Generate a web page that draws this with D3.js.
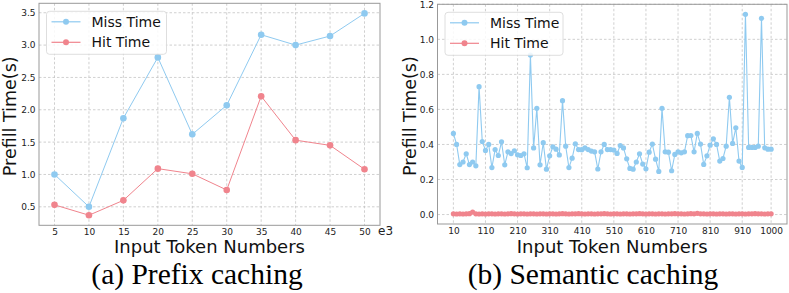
<!DOCTYPE html>
<html>
<head>
<meta charset="utf-8">
<script src="https://cdn.jsdelivr.net/npm/d3@7"></script>
<style>
  body { margin: 0; background: #fff; }
  svg { display: block; }
</style>
</head>
<body>
<div id="chart"></div>
<script>
// Panel (a) data: prefix caching, tokens in thousands
const prefixTokens = [5, 10, 15, 20, 25, 30, 35, 40, 45, 50];
const prefixMiss = [1.00, 0.50, 1.87, 2.81, 1.62, 2.07, 3.16, 3.00, 3.14, 3.49];
const prefixHit = [0.53, 0.37, 0.60, 1.09, 1.01, 0.76, 2.21, 1.53, 1.45, 1.08];
const prefixXTicks = [5, 10, 15, 20, 25, 30, 35, 40, 45, 50];
const prefixYTicks = [0.5, 1.0, 1.5, 2.0, 2.5, 3.0, 3.5];

// Panel (b) data: semantic caching
const semanticTokens = [
  10, 20, 30, 40, 50, 60, 70, 80, 90, 100,
  110, 120, 130, 140, 150, 160, 170, 180, 190, 200,
  210, 220, 230, 240, 250, 260, 270, 280, 290, 300,
  310, 320, 330, 340, 350, 360, 370, 380, 390, 400,
  410, 420, 430, 440, 450, 460, 470, 480, 490, 500,
  510, 520, 530, 540, 550, 560, 570, 580, 590, 600,
  610, 620, 630, 640, 650, 660, 670, 680, 690, 700,
  710, 720, 730, 740, 750, 760, 770, 780, 790, 800,
  810, 820, 830, 840, 850, 860, 870, 880, 890, 900,
  910, 920, 930, 940, 950, 960, 970, 980, 990, 1000
];
const semanticMiss = [
  0.463, 0.400, 0.285, 0.300, 0.347, 0.285, 0.300, 0.278, 0.730, 0.417,
  0.366, 0.400, 0.268, 0.371, 0.337, 0.415, 0.284, 0.358, 0.348, 0.364,
  0.341, 0.337, 0.347, 0.267, 0.910, 0.380, 0.606, 0.284, 0.410, 0.259,
  0.335, 0.387, 0.373, 0.340, 0.650, 0.390, 0.268, 0.322, 0.404, 0.371,
  0.370, 0.380, 0.371, 0.362, 0.358, 0.260, 0.358, 0.400, 0.371, 0.371,
  0.368, 0.349, 0.394, 0.380, 0.318, 0.263, 0.259, 0.300, 0.347, 0.288,
  0.261, 0.356, 0.402, 0.316, 0.246, 0.606, 0.358, 0.356, 0.250, 0.343,
  0.358, 0.352, 0.358, 0.450, 0.451, 0.358, 0.463, 0.402, 0.286, 0.335,
  0.396, 0.432, 0.400, 0.305, 0.320, 0.390, 0.669, 0.406, 0.495, 0.305,
  0.269, 1.143, 0.383, 0.383, 0.383, 0.390, 1.120, 0.381, 0.373, 0.373
];
const semanticHit = [
  0.004, 0.003, 0.004, 0.003, 0.004, 0.005, 0.014, 0.004, 0.003, 0.004,
  0.003, 0.004, 0.004, 0.003, 0.004, 0.004, 0.003, 0.004, 0.005, 0.004,
  0.003, 0.004, 0.004, 0.003, 0.004, 0.004, 0.003, 0.004, 0.004, 0.003,
  0.004, 0.004, 0.003, 0.004, 0.005, 0.004, 0.003, 0.004, 0.004, 0.005,
  0.004, 0.003, 0.004, 0.004, 0.003, 0.004, 0.004, 0.005, 0.004, 0.003,
  0.004, 0.004, 0.003, 0.004, 0.004, 0.003, 0.004, 0.004, 0.005, 0.004,
  0.003, 0.004, 0.004, 0.003, 0.004, 0.004, 0.003, 0.004, 0.004, 0.005,
  0.004, 0.004, 0.003, 0.004, 0.005, 0.004, 0.007, 0.004, 0.004, 0.003,
  0.004, 0.004, 0.003, 0.004, 0.004, 0.003, 0.004, 0.004, 0.003, 0.004,
  0.004, 0.003, 0.004, 0.004, 0.005, 0.004, 0.004, 0.003, 0.004, 0.004
];
const semanticXTicks = [10, 110, 210, 310, 410, 510, 610, 710, 810, 910, 1000];
const semanticYTicks = [0.0, 0.2, 0.4, 0.6, 0.8, 1.0, 1.2];

const seriesNames = ['Miss Time', 'Hit Time'];
const missColor = '#8fcaf0';
const hitColor = '#f0848d';
const sansFont = '"DejaVu Sans", sans-serif';

const svg = d3.select('#chart')
  .append('svg')
    .attr('width', 789)
    .attr('height', 293);

svg.append('rect')
  .attr('width', 789)
  .attr('height', 293)
  .attr('fill', '#fff');

// Draw one line panel with grid, axes, legend and labels
function drawPanel(p) {
  const xPad = (d3.max(p.tokens) - d3.min(p.tokens)) * 0.05;
  const x = d3.scaleLinear()
    .domain([d3.min(p.tokens) - xPad, d3.max(p.tokens) + xPad])
    .range([p.left, p.right]);

  const allValues = p.miss.concat(p.hit);
  const yPad = (d3.max(allValues) - d3.min(allValues)) * 0.05;
  const y = d3.scaleLinear()
    .domain([d3.min(allValues) - yPad, d3.max(allValues) + yPad])
    .range([p.bottom, p.top]);

  const g = svg.append('g');

  // Grid lines
  g.selectAll('.grid-x')
    .data(p.xTicks)
    .enter()
    .append('line')
      .attr('x1', d => x(d))
      .attr('x2', d => x(d))
      .attr('y1', p.top)
      .attr('y2', p.bottom)
      .attr('stroke', '#c4c4c4')
      .attr('stroke-width', 0.8)
      .attr('stroke-dasharray', '2.5,2');

  g.selectAll('.grid-y')
    .data(p.yTicks)
    .enter()
    .append('line')
      .attr('x1', p.left)
      .attr('x2', p.right)
      .attr('y1', d => y(d))
      .attr('y2', d => y(d))
      .attr('stroke', '#c4c4c4')
      .attr('stroke-width', 0.8)
      .attr('stroke-dasharray', '2.5,2');

  // Axes (tick labels only)
  const xAxis = g.append('g')
    .attr('transform', `translate(0,${p.bottom})`)
    .call(d3.axisBottom(x).tickValues(p.xTicks).tickSize(0).tickPadding(3.6).tickFormat(d3.format('d')));
  const yAxis = g.append('g')
    .attr('transform', `translate(${p.left},0)`)
    .call(d3.axisLeft(y).tickValues(p.yTicks).tickSize(0).tickPadding(3.5).tickFormat(d3.format('.1f')));

  [xAxis, yAxis].forEach(a => {
    a.select('.domain').remove();
    a.selectAll('text')
      .attr('fill', '#222')
      .style('font-family', sansFont)
      .style('font-size', '9px');
  });

  // Frame
  g.append('rect')
    .attr('x', p.left)
    .attr('y', p.top)
    .attr('width', p.right - p.left)
    .attr('height', p.bottom - p.top)
    .attr('fill', 'none')
    .attr('stroke', '#999')
    .attr('stroke-width', 1);

  // Lines and markers
  const line = d3.line()
    .x(d => x(d[0]))
    .y(d => y(d[1]));

  const series = [
    { values: p.miss, color: missColor },
    { values: p.hit, color: hitColor }
  ];

  series.forEach(s => {
    const pts = p.tokens.map((t, i) => [t, s.values[i]]);
    g.append('path')
      .datum(pts)
      .attr('d', line)
      .attr('fill', 'none')
      .attr('stroke', s.color)
      .attr('stroke-width', p.lineWidth);
    g.selectAll(null)
      .data(pts)
      .enter()
      .append('circle')
        .attr('cx', d => x(d[0]))
        .attr('cy', d => y(d[1]))
        .attr('r', p.radius)
        .attr('fill', s.color);
  });

  // Legend
  const lg = g.append('g')
    .attr('transform', `translate(${p.left + 7.5},${p.top + 8})`);
  lg.append('rect')
    .attr('width', p.legendWidth)
    .attr('height', 43)
    .attr('rx', 3)
    .attr('fill', '#fff')
    .attr('fill-opacity', 0.85)
    .attr('stroke', '#d6d6d6')
    .attr('stroke-width', 0.8);

  seriesNames.forEach((name, i) => {
    const rowY = 10.5 + i * 20.5;
    lg.append('line')
      .attr('x1', 5)
      .attr('x2', 34)
      .attr('y1', rowY)
      .attr('y2', rowY)
      .attr('stroke', series[i].color)
      .attr('stroke-width', 1.2);
    lg.append('circle')
      .attr('cx', 19.5)
      .attr('cy', rowY)
      .attr('r', 3)
      .attr('fill', series[i].color);
    lg.append('text')
      .attr('x', 45)
      .attr('y', rowY + 5)
      .attr('fill', '#111')
      .style('font-family', sansFont)
      .style('font-size', '14px')
      .text(name);
  });

  // Axis labels
  g.append('text')
    .attr('transform', `translate(${p.yLabelX},${(p.top + p.bottom) / 2 + 2}) rotate(-90)`)
    .attr('text-anchor', 'middle')
    .attr('fill', '#111')
    .style('font-family', sansFont)
    .style('font-size', '17.5px')
    .text('Prefill Time(s)');

  g.append('text')
    .attr('x', (p.left + p.right) / 2)
    .attr('y', 253)
    .attr('text-anchor', 'middle')
    .attr('fill', '#111')
    .style('font-family', sansFont)
    .style('font-size', '18px')
    .text('Input Token Numbers');

  if (p.offsetText) {
    g.append('text')
      .attr('x', p.right - 2)
      .attr('y', 235)
      .attr('fill', '#222')
      .style('font-family', sansFont)
      .style('font-size', '12px')
      .text(p.offsetText);
  }

  // Caption
  g.append('text')
    .attr('x', p.captionX)
    .attr('y', 284)
    .attr('text-anchor', 'middle')
    .attr('fill', '#000')
    .style('font-family', '"Liberation Serif", "Times New Roman", serif')
    .style('font-size', '29.5px')
    .text(p.caption);
}

drawPanel({
  tokens: prefixTokens,
  miss: prefixMiss,
  hit: prefixHit,
  xTicks: prefixXTicks,
  yTicks: prefixYTicks,
  left: 39, right: 380, top: 3.3, bottom: 225.3,
  lineWidth: 1, radius: 3.3,
  legendWidth: 120,
  yLabelX: 15.5,
  offsetText: 'e3',
  caption: '(a) Prefix caching',
  captionX: 197
});

drawPanel({
  tokens: semanticTokens,
  miss: semanticMiss,
  hit: semanticHit,
  xTicks: semanticXTicks,
  yTicks: semanticYTicks,
  left: 437.5, right: 787, top: 4.3, bottom: 224,
  lineWidth: 1.1, radius: 2.6,
  legendWidth: 118,
  yLabelX: 416,
  offsetText: null,
  caption: '(b) Semantic caching',
  captionX: 593
});
</script>
</body>
</html>
